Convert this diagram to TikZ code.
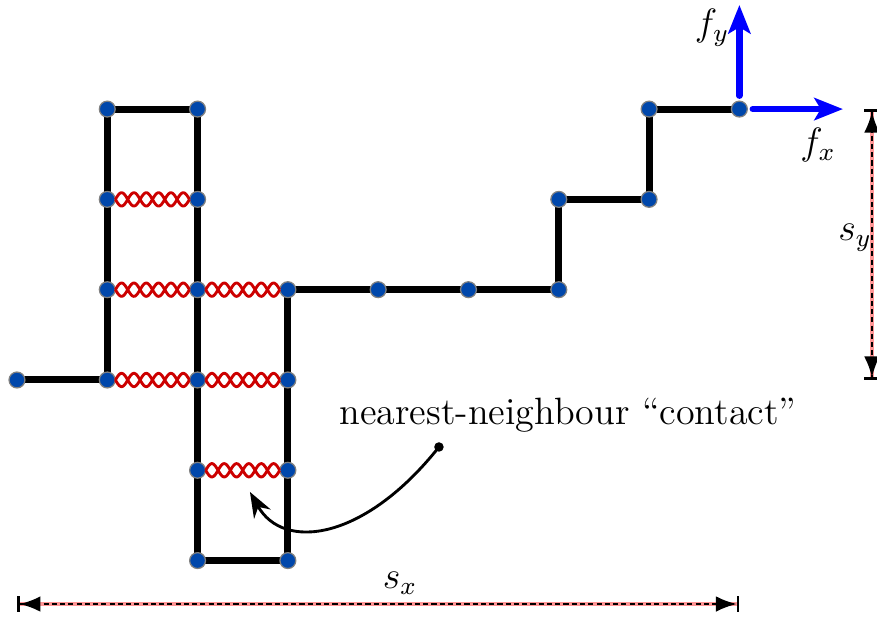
\documentclass[tikz,border=0pt]{standalone}
\usepackage{amssymb,amsmath}
\usetikzlibrary{arrows.meta}
\usetikzlibrary{calc}

\definecolor{siteblue}{RGB}{0,71,171}
\definecolor{springred}{RGB}{204,0,0}
\definecolor{dimpink}{RGB}{255,150,150}

\begin{document}
\begin{tikzpicture}[>=Latex, font=\large,
	chain/.style={line width=2.2pt},
	site/.style={circle,fill=siteblue,draw=gray,line width=0.4pt,inner sep=0pt,minimum size=5pt},
	contact/.style={springred,line width=0.9pt,to path={let \p1=(\tikztostart),\p2=(\tikztotarget) in
		plot[variable=\t,domain=0.09:0.91,samples=90,smooth] ({\x1+\t*(\x2-\x1)},{\y1+\t*(\y2-\y1)+2.1*sin(1317*(\t-0.09))})
		plot[variable=\t,domain=0.09:0.91,samples=90,smooth] ({\x1+\t*(\x2-\x1)},{\y1+\t*(\y2-\y1)-2.1*sin(1317*(\t-0.09))})}},
	force/.style={blue,line width=2pt,line cap=round,shorten <=1.5pt,-{Stealth[length=9pt,width=7pt,inset=2pt]}},
	dimback/.style={dimpink,line width=1.2pt},
	dimline/.style={line width=0.8pt,dash pattern=on 1.6pt off 1pt,{Bar[width=5pt]<}-{>Bar[width=5pt]}}]
		\useasboundingbox (-0.188,-2.625) rectangle (9.524,4.208);
		% chain sites
		\coordinate (m0) at (0,0);
		\coordinate (m1) at (1,0);
		\coordinate (m2) at (1,1);
		\coordinate (m3) at (1,2);
		\coordinate (m4) at (1,3);
		\coordinate (m5) at (2,3);
		\coordinate (m6) at (2,2);
		\coordinate (m7) at (2,1);
		\coordinate (m8) at (2,0);
		\coordinate (m9) at (2,-1);
		\coordinate (m10) at (2,-2);
		\coordinate (m11) at (3,-2);
		\coordinate (m12) at (3,-1);
		\coordinate (m13) at (3,0);
		\coordinate (m14) at (3,1);
		\coordinate (m15) at (4,1);
		\coordinate (m16) at (5,1);
		\coordinate (m17) at (6,1);
		\coordinate (m18) at (6,2);
		\coordinate (m19) at (7,2);
		\coordinate (m20) at (7,3);
		\coordinate (m21) at (8,3);
		\draw[chain] (m0)--(m1)--(m4)--(m5)--(m10)--(m11)--(m14)--(m17)--(m18)--(m19)--(m20)--(m21);
		\draw (m0) node[site] (s0) {};
		\draw (m1) node[site] (s1) {};
		\draw (m2) node[site] (s2) {};
		\draw (m3) node[site] (s3) {};
		\draw (m4) node[site] (s4) {};
		\draw (m5) node[site] (s5) {};
		\draw (m6) node[site] (s6) {};
		\draw (m7) node[site] (s7) {};
		\draw (m8) node[site] (s8) {};
		\draw (m9) node[site] (s9) {};
		\draw (m10) node[site] (s10) {};
		\draw (m11) node[site] (s11) {};
		\draw (m12) node[site] (s12) {};
		\draw (m13) node[site] (s13) {};
		\draw (m14) node[site] (s14) {};
		\draw (m15) node[site] (s15) {};
		\draw (m16) node[site] (s16) {};
		\draw (m17) node[site] (s17) {};
		\draw (m18) node[site] (s18) {};
		\draw (m19) node[site] (s19) {};
		\draw (m20) node[site] (s20) {};
		\draw (m21) node[site] (s21) {};
		% contacts
		\draw[contact] (s3) to (s6);
		\draw[contact] (s2) to (s7);
		\draw[contact] (s7) to (s14);
		\draw[contact] (s1) to (s8);
		\draw[contact] (s8) to (s13);
		\draw[contact] (s9) to (s12);
		% forces
		\coordinate (fytip) at (8,4.153);
		\coordinate (fxtip) at (9.147,3);
		\draw[force] (s21)--(fytip);
		\draw[force] (s21)--(fxtip);
		\node (fylabel) at (7.697,3.898) {$f_y$};
		\node (fxlabel) at (8.870,2.602) {$f_x$};
		% extensions
		\coordinate (sxl) at (0,-2.481);
		\coordinate (sxr) at (8,-2.481);
		\coordinate (syt) at (9.468,3);
		\coordinate (syb) at (9.468,0);
		\draw[dimback] (sxl)--(sxr);
		\draw[dimline] (sxl)--(sxr);
		\draw[dimback] (syt)--(syb);
		\draw[dimline] (syt)--(syb);
		\node (sxlabel) at (4.241,-2.248) {$s_x$};
		\node (sylabel) at (9.280,1.573) {$s_y$};
		% contact label
		\node (nnlabel) at (6.102,-0.388) {nearest-neighbour ``contact''};
		\node[circle,fill,inner sep=0pt,minimum size=3pt] (nndot) at (4.673,-0.742) {};
		\coordinate (nntip) at (2.580,-1.240);
		\draw[line width=0.9pt,-{Stealth[length=8pt,width=6pt]}] (nndot.center) .. controls (3.85,-1.78) and (2.95,-1.9) .. (nntip);
\end{tikzpicture}
\end{document}
